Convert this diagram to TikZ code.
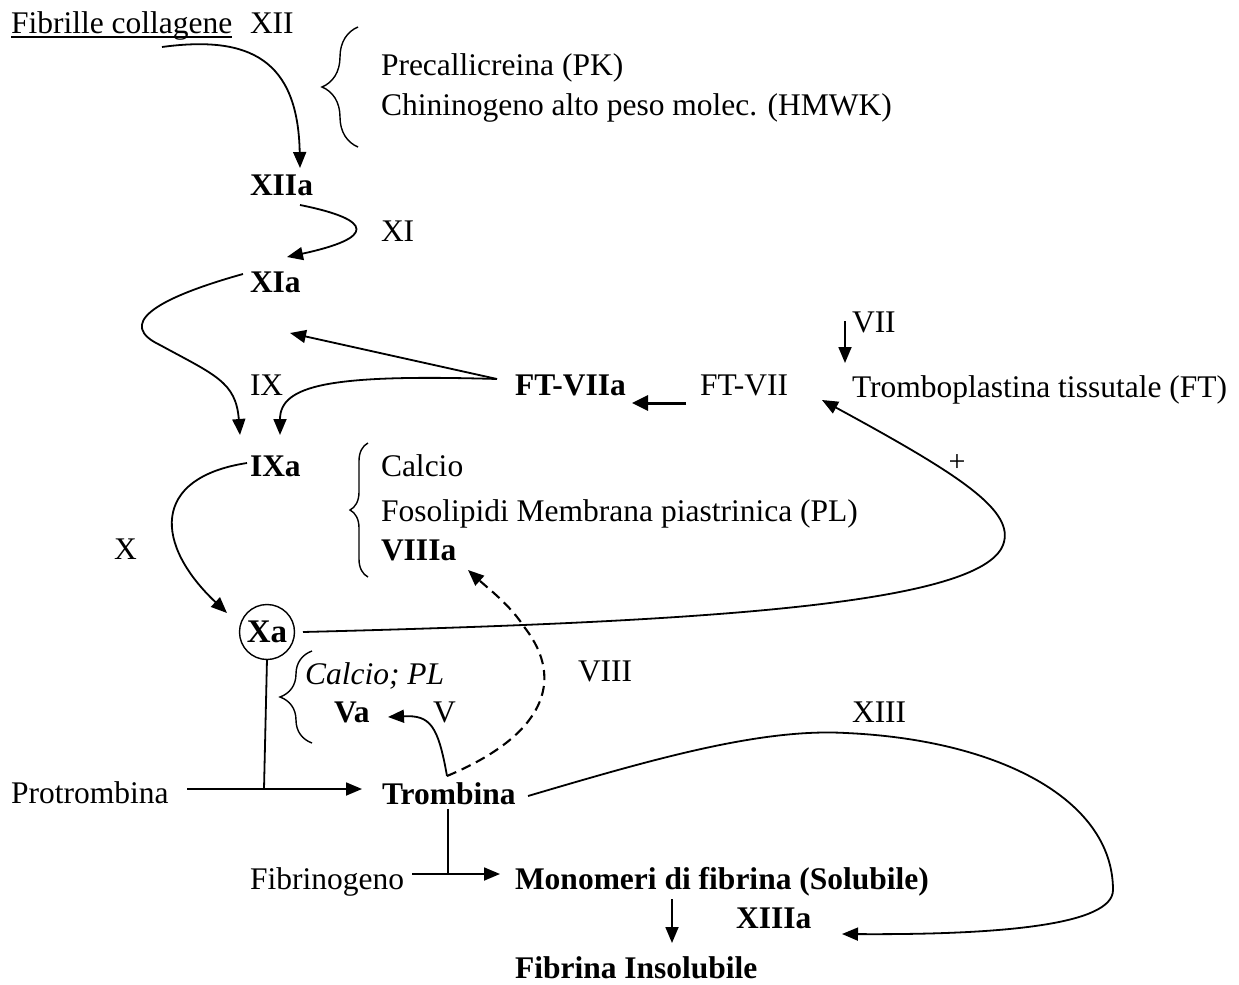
\documentclass[tikz,border=0pt]{standalone}
\usepackage{fontspec}
\setmainfont{Liberation Serif}
\usetikzlibrary{arrows.meta,decorations.pathreplacing}
\begin{document}
\begin{tikzpicture}[x=1bp,y=-1bp,
  every node/.style={inner sep=0pt, outer sep=0pt, anchor=base west,
    font=\fontsize{31.5bp}{38bp}\selectfont},
  bld/.style={font=\fontsize{31.5bp}{38bp}\selectfont\bfseries},
  itl/.style={font=\fontsize{31.5bp}{38bp}\selectfont\itshape},
  conn/.style={line width=1.8bp},
  arr/.style={conn, -{Triangle[length=16bp,width=13bp]}},
  thickarr/.style={line width=3bp, -{Triangle[length=16bp,width=15bp]}},
  dasharr/.style={arr, line width=2.1bp, dash pattern=on 10bp off 6bp},
  brc/.style={line width=1.4bp, decorate, decoration={brace, amplitude=#1}},
]
\useasboundingbox (0,0) rectangle (1239,985);

% ---- labels ----
\node (fc) at (11,33) {Fibrille collagene};
\draw[line width=1.5bp] ([yshift=-4bp]fc.base west) -- ([yshift=-4bp]fc.base east);
\node (xii) at (250,33) {XII};
\node (pk) at (381,75) {Precallicreina (PK)};
\node (hmwk) at (381,115) {Chininogeno alto peso molec. (HMWK)};
\node[bld] (xiia) at (250,195) {XIIa};
\node (xi) at (381,241) {XI};
\node[bld] (xia) at (250,292) {XIa};
\node (vii) at (852,332) {VII};
\node (ix) at (250,395) {IX};
\node[bld] (ftviia) at (515,395) {FT-VIIa};
\node (ftvii) at (700,395) {FT-VII};
\node (ft) at (852,397) {Tromboplastina tissutale (FT)};
\node[anchor=center, font=\fontsize{30bp}{34bp}\selectfont] (plus) at (957,463) {+};
\node[bld] (ixa) at (250,476) {IXa};
\node (ca1) at (381,476) {Calcio};
\node (pl) at (381,521) {Fosolipidi Membrana piastrinica (PL)};
\node[bld] (viiia) at (381,560) {VIIIa};
\node (x) at (114,559) {X};
\node[anchor=center, circle, draw, line width=1.4bp, minimum size=55bp,
      font=\fontsize{33bp}{38bp}\selectfont\bfseries] (xa) at (267,632) {Xa};
\node[itl] (capl) at (305,684) {Calcio; PL};
\node[bld] (va) at (334,722) {Va};
\node (v) at (433,722) {V};
\node (viii) at (578,681) {VIII};
\node (xiii) at (852,722) {XIII};
\node (protr) at (11,803) {Protrombina};
\node[bld] (tromb) at (382,804) {Trombina};
\node (fibg) at (250,889) {Fibrinogeno};
\node[bld] (mono) at (515,889) {Monomeri di fibrina (Solubile)};
\node[bld] (xiiia) at (736,928) {XIIIa};
\node[bld] (fins) at (515,978) {Fibrina Insolubile};

% ---- braces ----
\draw[brc=36bp] (358,147) -- (358,27);
\draw[brc=18bp] (368,577) -- (368,443);
\draw[brc=32bp] (312,743) -- (312,651);

% ---- connector end points ----
\coordinate (fcOut) at (162,47);
\coordinate (xiiaIn) at (300,168);
\coordinate (xiiaOut) at (300,205);
\coordinate (xiaIn) at (287,257);
\coordinate (xiaOut) at (243,274);
\coordinate (ixaInL) at (240,435);
\coordinate (ixaInR) at (280,435);
\coordinate (xiaAim) at (290,333);
\coordinate (ftviiaOut) at (497,379);
\coordinate (ftviiaIn) at (632,403);
\coordinate (ftviiOut) at (686,403);
\coordinate (viiOut) at (845,321);
\coordinate (ftIn) at (845,363);
\coordinate (ftviiIn) at (822,400);
\coordinate (xaEast) at (303,632);
\coordinate (ixaOut) at (247,463);
\coordinate (xaIn) at (227,613);
\coordinate (xaSouth) at (267,659);
\coordinate (jProt) at (264,789);
\coordinate (protrOut) at (187,789);
\coordinate (trombIn) at (362,789);
\coordinate (trombTop) at (447,776);
\coordinate (vaIn) at (388,717);
\coordinate (viiiaIn) at (468,570);
\coordinate (trombEast) at (528,796);
\coordinate (xiiiaIn) at (842,934);
\coordinate (trombBot) at (448,809);
\coordinate (jFib) at (448,874);
\coordinate (fibgOut) at (412,874);
\coordinate (monoIn) at (500,874);
\coordinate (monoOut) at (672,899);
\coordinate (finsIn) at (672,943);

% ---- connectors ----
\draw[arr] (fcOut) .. controls (250,35) and (298,60) .. (xiiaIn);
\draw[arr] (xiiaOut) .. controls (375,220) and (375,238) .. (xiaIn);
\draw[arr] (xiaOut) .. controls (150,300) and (118,325) .. (160,345)
                    .. controls (215,375) and (236,382) .. (ixaInL);
\draw[arr] (ftviiaOut) -- (xiaAim);
\draw[arr] (ftviiaOut) .. controls (330,374) and (280,385) .. (ixaInR);
\draw[thickarr] (ftviiOut) -- (ftviiaIn);
\draw[arr] (viiOut) -- (ftIn);
\draw[arr] (xaEast) .. controls (700,622) and (980,605) .. (1003,545)
                    .. controls (1016,511) and (960,475) .. (ftviiIn);
\draw[arr] (ixaOut) .. controls (150,478) and (155,545) .. (xaIn);
\draw[conn] (xaSouth) -- (jProt);
\draw[arr] (protrOut) -- (trombIn);
\draw[arr] (trombTop) .. controls (438,725) and (430,715) .. (vaIn);
\draw[dasharr] (trombTop) .. controls (545,735) and (565,680) .. (525,628)
                    .. controls (510,605) and (490,590) .. (viiiaIn);
\draw[arr] (trombEast) .. controls (650,760) and (760,728) .. (846,733)
                    .. controls (1000,740) and (1113,800) .. (1113,890)
                    .. controls (1113,925) and (1000,935) .. (xiiiaIn);
\draw[conn] (trombBot) -- (jFib);
\draw[arr] (fibgOut) -- (monoIn);
\draw[arr] (monoOut) -- (finsIn);
\end{tikzpicture}
\end{document}
